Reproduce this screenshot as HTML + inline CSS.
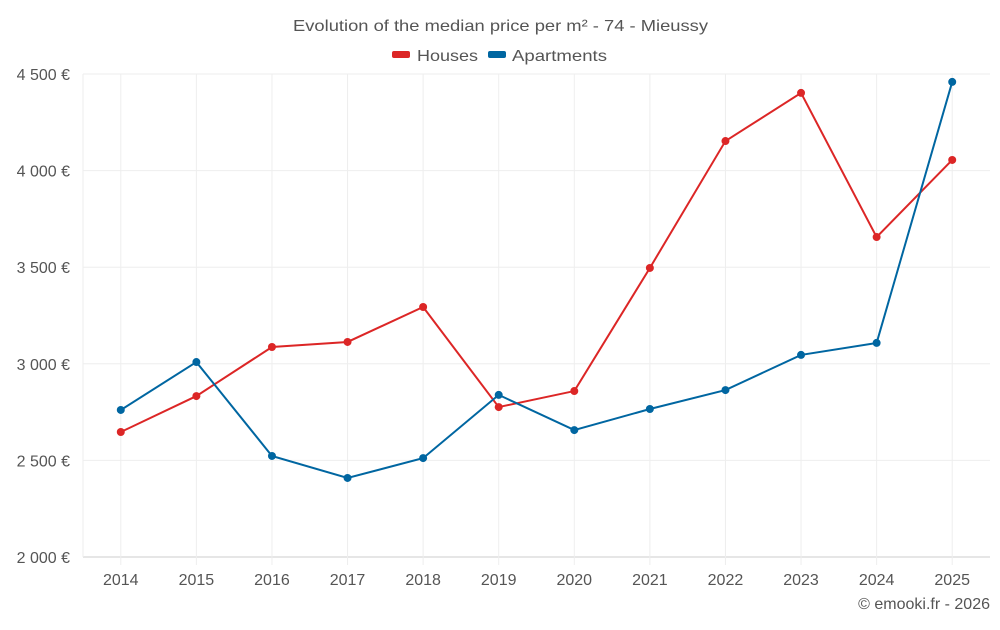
<!DOCTYPE html>
<html><head><meta charset="utf-8"><style>
body{margin:0;background:#fff;font-family:"Liberation Sans",sans-serif}
svg text{font-family:"Liberation Sans",sans-serif;fill:#555}
</style></head><body>
<svg id="c" width="1000" height="625">
<text x="293" y="31" font-size="16" textLength="415" lengthAdjust="spacingAndGlyphs">Evolution of the median price per m² - 74 - Mieussy</text>
<g>
<g><rect x="392" y="51" width="18" height="7" rx="2" fill="#dc2626"/><text x="417" y="61" font-size="16" textLength="61" lengthAdjust="spacingAndGlyphs">Houses</text></g>
<g><rect x="488" y="51" width="18" height="7" rx="2" fill="#0066a1"/><text x="512" y="61" font-size="16" textLength="95" lengthAdjust="spacingAndGlyphs">Apartments</text></g>
</g>
<g id="grid"></g><g id="axes"></g><g id="series"></g>
<text x="990" y="609" text-anchor="end" font-size="16">© emooki.fr - 2026</text>
</svg>
<script>
const years=["2014","2015","2016","2017","2018","2019","2020","2021","2022","2023","2024","2025"];
const houses=[2647,2833,3087,3113,3294,2776,2859,3496,4153,4402,3656,4055];
const apartments=[2761,3009,2523,2409,2512,2839,2657,2766,2864,3046,3108,4459];
const yTicks=[2000,2500,3000,3500,4000,4500];
const yLabels=["2 000 €","2 500 €","3 000 €","3 500 €","4 000 €","4 500 €"];
const L=83,R=990,T=74,B=557,NS="http://www.w3.org/2000/svg";
const step=(R-L)/years.length;
const x=i=>L+step*(i+0.5);
const y=v=>B-(v-2000)/2500*(B-T);
function mk(tag,attrs,parent){const e=document.createElementNS(NS,tag);for(const k in attrs)e.setAttribute(k,attrs[k]);document.getElementById(parent).appendChild(e);return e;}
yTicks.forEach((t,i)=>{
 const g=mk("line",{x1:L,x2:R,y1:y(t),y2:y(t),stroke:i==0?"#ccc":"#eee"},"grid");
 
 
 const tx=mk("text",{x:70,y:y(t)+6,"text-anchor":"end","font-size":"16"},"axes");tx.textContent=yLabels[i];
 
 
});
years.forEach((yr,i)=>{
 const g=mk("line",{x1:x(i),x2:x(i),y1:T,y2:B+8,stroke:"#eee"},"grid");
 
 
 const tx=mk("text",{x:x(i),y:585,"text-anchor":"middle","font-size":"16"},"axes");tx.textContent=yr;
 
 
});
const lb=mk("line",{x1:L,x2:L,y1:T,y2:B,stroke:"#eee"},"grid");


function series(vals,color,name){
 const p=mk("polyline",{points:vals.map((v,i)=>x(i)+","+y(v)).join(" "),fill:"none",stroke:color,"stroke-width":2},"series");
 
 
 vals.forEach((v,i)=>{const c=mk("circle",{cx:x(i),cy:y(v),r:4,fill:color},"series");
 
 });
}
series(houses,"#dc2626","houses");
series(apartments,"#0066a1","apartments");
</script>
</body></html>
